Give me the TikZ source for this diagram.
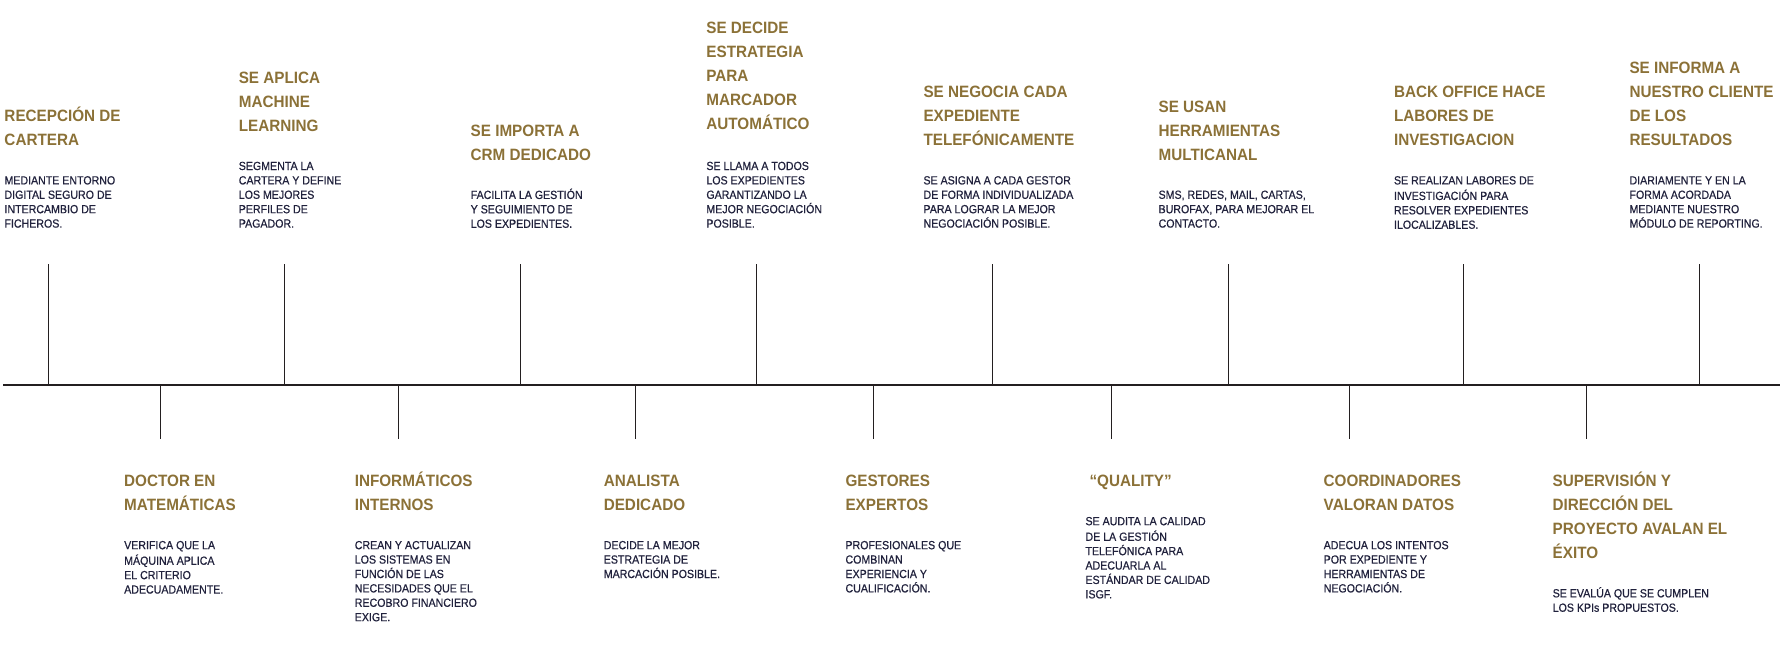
\documentclass[tikz,border=0pt]{standalone}
\usepackage{fontspec}
\setmainfont{Liberation Sans}
\newfontfamily\headfont[FakeStretch=0.93]{Liberation Sans}
\newfontfamily\bodyfont[FakeStretch=0.9,FakeBold=0.6]{Liberation Sans}
\definecolor{headc}{RGB}{139,113,55}
\definecolor{bodyc}{RGB}{32,33,60}
\definecolor{linec}{RGB}{35,31,32}
\tikzset{
  head/.style={anchor=north west, inner sep=0pt, outer sep=0pt, align=left, text=headc,
    font=\headfont\bfseries\fontsize{16.4}{24}\selectfont},
  body/.style={anchor=north west, inner sep=0pt, outer sep=0pt, align=left, text=bodyc,
    font=\bodyfont\fontsize{11.8}{14.4}\selectfont},
  tick/.style={draw=linec, line width=1.2pt},
}
\begin{document}
\begin{tikzpicture}[x=1pt,y=-1pt]
\useasboundingbox (0,0) rectangle (1783,645);
% timeline
\coordinate (L) at (3.4,385);
\coordinate (R) at (1780,385);
\draw[tick] (L) -- (R);
\foreach \i/\x in {1/48.6,2/284.3,3/520.5,4/756.5,5/992.3,6/1228.3,7/1463.2,8/1699.3}{
  \coordinate (ta\i) at (\x,264);
  \coordinate (tb\i) at (\x,385);
  \draw[tick] (ta\i) -- (tb\i);
}
\foreach \i/\x in {1/160.3,2/398.2,3/635.2,4/873.2,5/1111.3,6/1349.4,7/1586.2}{
  \coordinate (ba\i) at (\x,385);
  \coordinate (bb\i) at (\x,439);
  \draw[tick] (ba\i) -- (bb\i);
}
% top row
\node[head] (h1) at (4.5,104.9) {\strut RECEPCIÓN DE\\CARTERA};
\node[body] (d1) at (4.5,174.32) {\strut MEDIANTE ENTORNO\\DIGITAL SEGURO DE\\INTERCAMBIO DE\\FICHEROS.};
\node[head] (h2) at (238.8,66.5) {\strut SE APLICA\\MACHINE\\LEARNING};
\node[body] (d2) at (238.8,159.92) {\strut SEGMENTA LA\\CARTERA Y DEFINE\\LOS MEJORES\\PERFILES DE\\PAGADOR.};
\node[head] (h3) at (470.7,119.3) {\strut SE IMPORTA A\\CRM DEDICADO};
\node[body] (d3) at (470.7,188.72) {\strut FACILITA LA GESTIÓN\\Y SEGUIMIENTO DE\\LOS EXPEDIENTES.};
\node[head] (h4) at (706.4,16.5) {\strut SE DECIDE\\ESTRATEGIA\\PARA\\MARCADOR\\AUTOMÁTICO};
\node[body] (d4) at (706.4,159.92) {\strut SE LLAMA A TODOS\\LOS EXPEDIENTES\\GARANTIZANDO LA\\MEJOR NEGOCIACIÓN\\POSIBLE.};
\node[head] (h5) at (923.5,80.9) {\strut SE NEGOCIA CADA\\EXPEDIENTE\\TELEFÓNICAMENTE};
\node[body] (d5) at (923.5,174.32) {\strut SE ASIGNA A CADA GESTOR\\DE FORMA INDIVIDUALIZADA\\PARA LOGRAR LA MEJOR\\NEGOCIACIÓN POSIBLE.};
\node[head] (h6) at (1158.6,95.3) {\strut SE USAN\\HERRAMIENTAS\\MULTICANAL};
\node[body] (d6) at (1158.6,188.72) {\strut SMS, REDES, MAIL, CARTAS,\\BUROFAX, PARA MEJORAR EL\\CONTACTO.};
\node[head] (h7) at (1394,80.9) {\strut BACK OFFICE HACE\\LABORES DE\\INVESTIGACION};
\node[body] (d7) at (1394,174.32) {\strut SE REALIZAN LABORES DE\\INVESTIGACIÓN PARA\\RESOLVER EXPEDIENTES\\ILOCALIZABLES.};
\node[head] (h8) at (1629.5,56.9) {\strut SE INFORMA A\\NUESTRO CLIENTE\\DE LOS\\RESULTADOS};
\node[body] (d8) at (1629.5,174.32) {\strut DIARIAMENTE Y EN LA\\FORMA ACORDADA\\MEDIANTE NUESTRO\\MÓDULO DE REPORTING.};
% bottom row
\node[head] (g1) at (124.2,469.7) {\strut DOCTOR EN\\MATEMÁTICAS};
\node[body] (e1) at (124.2,539.12) {\strut VERIFICA QUE LA\\MÁQUINA APLICA\\EL CRITERIO\\ADECUADAMENTE.};
\node[head] (g2) at (354.8,469.7) {\strut INFORMÁTICOS\\INTERNOS};
\node[body] (e2) at (354.8,539.12) {\strut CREAN Y ACTUALIZAN\\LOS SISTEMAS EN\\FUNCIÓN DE LAS\\NECESIDADES QUE EL\\RECOBRO FINANCIERO\\EXIGE.};
\node[head] (g3) at (603.8,469.7) {\strut ANALISTA\\DEDICADO};
\node[body] (e3) at (603.8,539.12) {\strut DECIDE LA MEJOR\\ESTRATEGIA DE\\MARCACIÓN POSIBLE.};
\node[head] (g4) at (845.5,469.7) {\strut GESTORES\\EXPERTOS};
\node[body] (e4) at (845.5,539.12) {\strut PROFESIONALES QUE\\COMBINAN\\EXPERIENCIA Y\\CUALIFICACIÓN.};
\node[head] (g5) at (1089.5,469.7) {\strut “QUALITY”};
\node[body] (e5) at (1085.5,515.12) {\strut SE AUDITA LA CALIDAD\\DE LA GESTIÓN\\TELEFÓNICA PARA\\ADECUARLA AL\\ESTÁNDAR DE CALIDAD\\ISGF.};
\node[head] (g6) at (1323.7,469.7) {\strut COORDINADORES\\VALORAN DATOS};
\node[body] (e6) at (1323.7,539.12) {\strut ADECUA LOS INTENTOS\\POR EXPEDIENTE Y\\HERRAMIENTAS DE\\NEGOCIACIÓN.};
\node[head] (g7) at (1552.7,469.7) {\strut SUPERVISIÓN Y\\DIRECCIÓN DEL\\PROYECTO AVALAN EL\\ÉXITO};
\node[body] (e7) at (1552.7,587.12) {\strut SE EVALÚA QUE SE CUMPLEN\\LOS KPIs PROPUESTOS.};
\end{tikzpicture}
\end{document}
